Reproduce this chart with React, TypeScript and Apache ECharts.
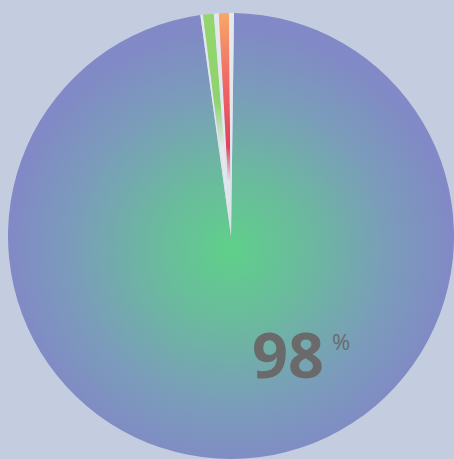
import React, { useEffect, useRef } from "react";
import * as echarts from "echarts";

const sliceNames = ["main", "gap1", "green", "gap2", "orange", "gap3"];
const sliceValues = [97.58, 0.19, 0.78, 0.36, 0.72, 0.36];
const valueLabel = "98";
const unitLabel = "%";

export default function App() {
  const ref = useRef<HTMLDivElement>(null);
  useEffect(() => {
    document.body.style.margin = "0";
    const chart = echarts.init(ref.current!, null, { renderer: "svg" });
    const white = "#e3e8ee";
    const gapStyle = { color: white };
    const styles: any[] = [
      {
        color: new echarts.graphic.RadialGradient(0.5, 0.53, 0.5, [
          { offset: 0, color: "#5fd08a" },
          { offset: 0.35, color: "#6bb99f" },
          { offset: 0.7, color: "#7a9dba" },
          { offset: 1, color: "#8189c6" },
        ]),
      },
      gapStyle,
      {
        color: new echarts.graphic.LinearGradient(0, 0, 0, 1, [
          { offset: 0, color: "#93d66c" },
          { offset: 0.4, color: "#8ed36e" },
          { offset: 0.6, color: white },
          { offset: 1, color: white },
        ]),
      },
      gapStyle,
      {
        color: new echarts.graphic.LinearGradient(0, 0, 0, 1, [
          { offset: 0, color: "#f9a768" },
          { offset: 0.3, color: "#f06a66" },
          { offset: 0.6, color: "#e2405c" },
          { offset: 0.76, color: white },
          { offset: 1, color: white },
        ]),
      },
      gapStyle,
    ];
    chart.setOption({
      animation: false,
      backgroundColor: "#c4cde0",
      series: [
        {
          type: "pie",
          center: [231, 236],
          radius: [0, 223],
          startAngle: 89.23,
          clockwise: true,
          label: { show: false },
          labelLine: { show: false },
          emphasis: { disabled: true },
          data: sliceNames.map((n, i) => ({
            name: n,
            value: sliceValues[i],
            itemStyle: styles[i],
          })),
        },
      ],
      graphic: {
        elements: [
          {
            type: "text",
            x: 252,
            y: 322,
            z: 100,
            style: {
              text: valueLabel,
              fontSize: 63,
              fontWeight: "bold",
              fontFamily: "Open Sans",
              fill: "#6a6a6a",
            },
          },
          {
            type: "text",
            x: 332,
            y: 330,
            z: 100,
            style: {
              text: unitLabel,
              fontSize: 22,
              fontWeight: "normal",
              fontFamily: "Open Sans",
              fill: "#6a6a6a",
            },
          },
        ],
      },
    });
    return () => chart.dispose();
  }, []);
  return <div ref={ref} style={{ width: 454, height: 459 }} />;
}
